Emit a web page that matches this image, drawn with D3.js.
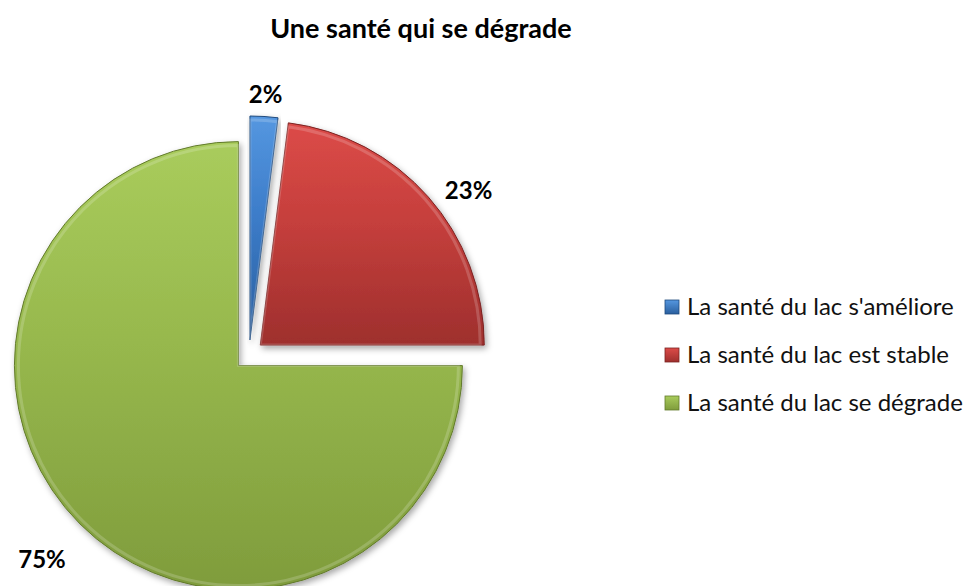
<!DOCTYPE html>
<html>
<head>
<meta charset="utf-8">
<script src="https://cdn.jsdelivr.net/npm/d3@7"></script>
<style>
  body { margin: 0; background: #fff; }
  text { font-family: Lato, "Open Sans", sans-serif; }
</style>
</head>
<body>
<svg width="973" height="586"></svg>
<script>
// data
var categories = ["La santé du lac s'améliore", "La santé du lac est stable", "La santé du lac se dégrade"];
var values = [2, 23, 75];
var labels = ["2%", "23%", "75%"];
var title = "Une santé qui se dégrade";

var colors = [
  {top: "#5597e0", mid: "#3c7cc9", bottom: "#2a5f9e", edge: "#1f4a7d"},
  {top: "#dc4b48", mid: "#c53f3c", bottom: "#9e2f2d", edge: "#7a2322"},
  {top: "#a9cc5c", mid: "#97b84d", bottom: "#7f9c3c", edge: "#627a2c"}
];

var svg = d3.select("svg");
var cx = 249, cy = 355, radius = 224, explode = 15;

var defs = svg.append("defs");

var shadow = defs.append("filter").attr("id", "shadow")
  .attr("x", "-10%").attr("y", "-10%").attr("width", "120%").attr("height", "120%");
shadow.append("feDropShadow")
  .attr("dx", 2).attr("dy", 3).attr("stdDeviation", 3)
  .attr("flood-color", "#000").attr("flood-opacity", 0.35);

colors.forEach(function(c, i) {
  var lg = defs.append("linearGradient").attr("id", "grad" + i)
    .attr("x1", 0).attr("y1", 0).attr("x2", 0).attr("y2", 1);
  lg.append("stop").attr("offset", "0%").attr("stop-color", c.top);
  lg.append("stop").attr("offset", "45%").attr("stop-color", c.mid);
  lg.append("stop").attr("offset", "100%").attr("stop-color", c.bottom);

  var sg = defs.append("linearGradient").attr("id", "sq" + i)
    .attr("x1", 0).attr("y1", 0).attr("x2", 0).attr("y2", 1);
  sg.append("stop").attr("offset", "0%").attr("stop-color", c.top);
  sg.append("stop").attr("offset", "100%").attr("stop-color", c.bottom);
});

// title
svg.append("text")
  .attr("x", 421)
  .attr("y", 38)
  .attr("text-anchor", "middle")
  .style("font-size", "27px")
  .style("font-weight", "bold")
  .text(title);

var pie = d3.pie().sort(null).value(function(d) { return d; });
var arcs = pie(values);

var arc = d3.arc().innerRadius(0).outerRadius(radius);
var bevel = d3.arc().innerRadius(0).outerRadius(radius - 4);

var g = svg.append("g").attr("transform", "translate(" + cx + "," + cy + ")");

var slices = g.selectAll(".slice")
  .data(arcs)
  .enter().append("g")
  .attr("class", "slice")
  .attr("transform", function(d) {
    var a = (d.startAngle + d.endAngle) / 2;
    return "translate(" + (Math.sin(a) * explode) + "," + (-Math.cos(a) * explode) + ")";
  });

slices.append("path")
  .attr("d", arc)
  .attr("fill", function(d, i) { return "url(#grad" + i + ")"; })
  .attr("stroke", function(d, i) { return colors[i].edge; })
  .attr("stroke-width", 1)
  .attr("stroke-linejoin", "round")
  .attr("filter", "url(#shadow)");

// soft bevel highlight
slices.append("path")
  .attr("d", bevel)
  .attr("fill", "none")
  .attr("stroke", "#fff")
  .attr("stroke-opacity", 0.18)
  .attr("stroke-width", 3)
  .attr("stroke-linejoin", "round");

// data labels outside end
slices.each(function(d, i) {
  var a = (d.startAngle + d.endAngle) / 2;
  var ux = Math.sin(a), uy = -Math.cos(a);
  var t = d3.select(this).append("text")
    .style("font-size", "24px")
    .style("font-weight", "bold")
    .attr("text-anchor", "middle")
    .text(labels[i]);
  var bb = t.node().getBBox();
  var rr = radius + (i === 0 ? 8 : 30);
  var px = ux * rr + ux * bb.width / 2;
  var py = uy * rr + uy * bb.height / 2 + (ux > 0.3 ? 22 : 0) + (uy > 0.3 ? 3 : 0);
  t.attr("x", px).attr("y", py + bb.height * 0.32);
});

// legend
var legend = svg.append("g").attr("transform", "translate(665,307)");
var rows = legend.selectAll(".row")
  .data(categories)
  .enter().append("g")
  .attr("class", "row")
  .attr("transform", function(d, i) { return "translate(0," + (i * 48) + ")"; });

rows.append("rect")
  .attr("x", 0).attr("y", -7)
  .attr("width", 14).attr("height", 14)
  .attr("fill", function(d, i) { return "url(#sq" + i + ")"; })
  .attr("stroke", function(d, i) { return colors[i].edge; })
  .attr("stroke-width", 0.8);

rows.append("text")
  .attr("x", 22)
  .attr("y", 8)
  .style("font-size", "24px")
  .style("fill", "#111")
  .text(function(d) { return d; });
</script>
</body>
</html>
